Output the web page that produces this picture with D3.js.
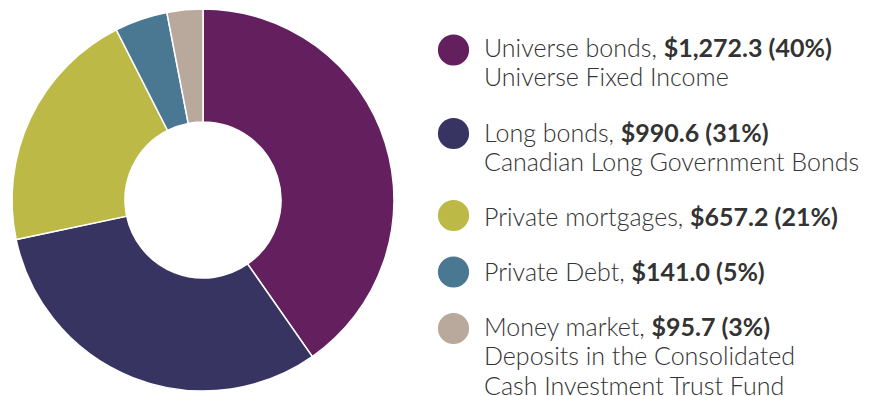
<!DOCTYPE html>
<html>
<head>
<meta charset="utf-8">
<script src="https://cdn.jsdelivr.net/npm/d3@7"></script>
<style>
  html, body { margin: 0; padding: 0; background: #fff; overflow: hidden; }
  svg { display: block; }
  text { font-family: "Lato", "Open Sans", sans-serif; font-weight: 300; fill: #333; }
  .val { font-weight: 700; fill: #333; }
</style>
</head>
<body>
<svg id="chart" width="875" height="396"></svg>
<script>
// Fixed income holdings ($ millions)
const categories = ["Universe bonds", "Long bonds", "Private mortgages", "Private Debt", "Money market"];
const values = [1272.3, 990.6, 657.2, 141.0, 95.7];
const valueLabels = ["$1,272.3 (40%)", "$990.6 (31%)", "$657.2 (21%)", "$141.0 (5%)", "$95.7 (3%)"];
const descriptions = [
  ["Universe Fixed Income"],
  ["Canadian Long Government Bonds"],
  [],
  [],
  ["Deposits in the Consolidated", "Cash Investment Trust Fund"]
];
const colors = ["#641f5e", "#383462", "#bdb946", "#4a7893", "#b8a99c"];

const svg = d3.select("#chart");

const cx = 203, cy = 200, outerR = 191, innerR = 78;

const pie = d3.pie().sort(null).value(d => d.value);
const arc = d3.arc().innerRadius(innerR).outerRadius(outerR);

const data = categories.map((c, i) => ({ name: c, value: values[i], color: colors[i] }));

svg.append("g")
  .attr("transform", `translate(${cx},${cy})`)
  .selectAll("path")
  .data(pie(data))
  .join("path")
  .attr("d", arc)
  .attr("fill", d => d.data.color)
  .attr("stroke", "#fff")
  .attr("stroke-width", 1.5);

// Legend: swatch circle, "name, value" line, then optional description lines
const legendX = 453.5, textX = 484, lineH = 29.3, fs = 25;
const baselines = [56.5, 141.5, 225.5, 280.5, 336];
const swatchY = [50, 133.5, 215.5, 272, 328.5];

const legend = svg.append("g");
data.forEach((d, i) => {
  const g = legend.append("g");
  g.append("circle")
    .attr("cx", legendX).attr("cy", swatchY[i]).attr("r", 15.6)
    .attr("fill", d.color);
  const t = g.append("text")
    .attr("x", textX).attr("y", baselines[i])
    .attr("font-size", fs);
  t.append("tspan").text(d.name + ", ");
  t.append("tspan").attr("class", "val").text(valueLabels[i]);
  descriptions[i].forEach((line, j) => {
    g.append("text")
      .attr("x", textX).attr("y", baselines[i] + lineH * (j + 1))
      .attr("font-size", fs)
      .text(line);
  });
});
</script>
</body>
</html>
